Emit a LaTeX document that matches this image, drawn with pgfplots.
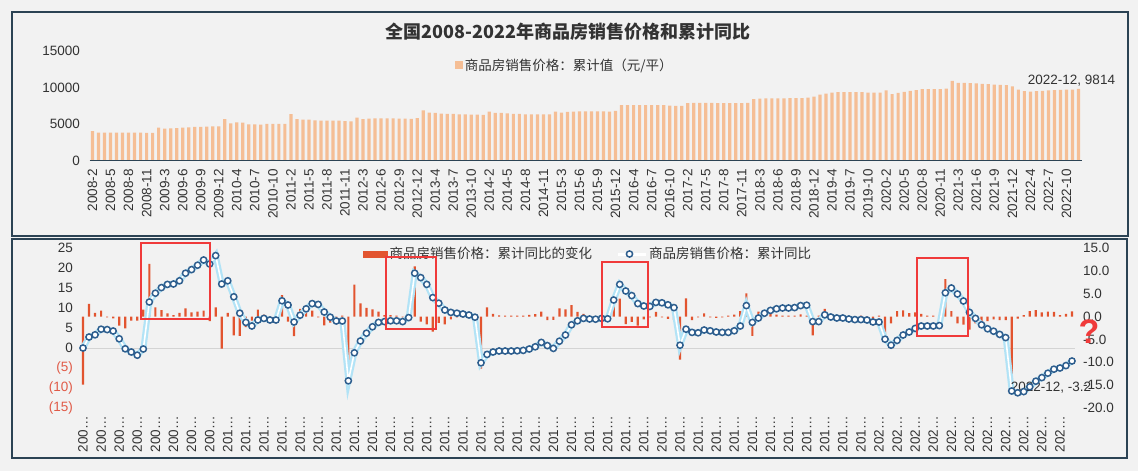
\documentclass[border=0pt]{standalone}
\usepackage{fontspec}
\setmainfont{Liberation Sans}
\newfontfamily\cjk{Noto Sans CJK SC}
\usepackage{pgfplots}
\usepackage{pgfplotstable}
\pgfplotsset{compat=1.18}

\definecolor{bg}{HTML}{F2F2F2}
\definecolor{frame}{HTML}{2C4354}
\definecolor{peach}{HTML}{F5BE95}
\definecolor{barred}{HTML}{E2542F}
\definecolor{glow}{HTML}{B2E3F6}
\definecolor{markc}{HTML}{2E5E8E}
\definecolor{tickc}{HTML}{333333}
\definecolor{negred}{HTML}{E05A47}
\definecolor{annot}{HTML}{F03A3A}
\definecolor{zeroc}{HTML}{D4D4D4}

% i = month index (Feb..Dec, 11 per year, 2008-2 .. 2022-12)
% price = cumulative average price (yuan/m2), chg = change of yoy, yoy = cumulative yoy (%)
\pgfplotstableread{
i price chg yoy
0 4040 -14.9 0.0
1 3810 2.8 2.75
2 3810 0.8 3.3
3 3830 1.3 4.7
4 3830 -0.2 4.6
5 3830 -0.4 4.25
6 3810 -2.0 2.3
7 3810 -2.6 -0.2
8 3810 -0.9 -1.0
9 3800 -0.9 -1.8
10 3800 1.5 -0.25
11 4500 11.5 11.5
12 4360 2.0 13.7
13 4400 1.4 15.1
14 4450 0.7 15.9
15 4500 0.3 16.0
16 4540 0.8 16.8
17 4590 1.8 18.7
18 4600 0.9 19.6
19 4630 1.1 20.7
20 4660 1.3 22.0
21 4681 -1.0 21.0
22 5680 2.0 23.1
23 5090 -7.0 16.0
24 5230 0.8 16.8
25 5180 -4.1 12.8
26 4950 -4.2 8.7
27 4950 -2.3 6.4
28 4930 -0.9 5.5
29 5000 1.5 7.0
30 5000 0.4 7.4
31 5000 -0.4 7.0
32 5032 0.2 7.0
33 6360 4.7 11.8
34 5680 -1.1 10.75
35 5590 -4.3 6.5
36 5590 1.7 8.2
37 5500 1.6 9.8
38 5450 1.3 11.1
39 5450 -0.2 10.9
40 5450 -1.9 9.0
41 5450 -1.3 7.7
42 5410 -1.0 6.75
43 5357 0.2 6.75
44 5860 -14.5 -8.2
45 5680 7.0 -1.2
46 5720 2.9 1.75
47 5770 1.9 3.7
48 5780 1.6 5.3
49 5780 1.1 6.4
50 5780 0.3 6.6
51 5740 0.3 6.8
52 5740 0.2 6.8
53 5700 -0.2 6.6
54 5791 1.0 7.6
55 6880 11.0 18.7
56 6560 -1.1 17.6
57 6510 -1.7 15.9
58 6420 -3.3 12.6
59 6380 -1.4 11.2
60 6380 -1.7 9.5
61 6330 -0.6 8.9
62 6330 -0.2 8.7
63 6290 -0.2 8.5
64 6290 -0.25 8.25
65 6237 -0.55 7.7
66 6700 -11.4 -3.7
67 6510 2.0 -1.6
68 6510 0.6 -1.0
69 6470 0.25 -0.75
70 6380 0.2 -0.75
71 6380 0.2 -0.75
72 6330 0.2 -0.7
73 6330 0.2 -0.6
74 6330 0.35 -0.25
75 6330 0.55 0.3
76 6324 1.1 1.4
77 6700 -0.8 0.6
78 6560 -0.7 -0.1
79 6650 1.8 1.7
80 6700 1.55 3.25
81 6740 2.5 5.8
82 6740 1.0 6.8
83 6740 0.6 7.4
84 6740 -0.15 7.25
85 6740 -0.1 7.2
86 6700 0.2 7.4
87 6793 -0.1 7.3
88 7570 4.5 12.0
89 7570 3.9 15.9
90 7570 -1.65 14.25
91 7570 -1.15 13.1
92 7570 -2.0 11.1
93 7570 -0.6 10.5
94 7570 -0.15 10.4
95 7570 1.0 11.4
96 7520 -0.15 11.3
97 7480 -0.5 10.8
98 7476 -0.7 10.1
99 7850 -9.4 0.7
100 7890 4.0 4.7
101 7890 -0.8 3.9
102 7890 -0.15 3.8
103 7890 0.7 4.5
104 7870 -0.2 4.3
105 7870 -0.3 4.0
106 7870 -0.15 3.9
107 7850 0.2 3.9
108 7850 0.4 4.3
109 7892 1.2 5.5
110 8420 5.1 10.6
111 8470 -4.2 6.4
112 8500 1.1 7.5
113 8500 1.2 8.7
114 8520 0.7 9.4
115 8520 0.4 9.8
116 8540 0.2 10.0
117 8540 0.2 10.0
118 8560 0.2 10.1
119 8600 0.5 10.6
120 8737 0.2 10.7
121 9040 -4.1 6.6
122 9170 0.2 6.6
123 9310 1.7 8.3
124 9350 -0.55 7.75
125 9350 -0.25 7.5
126 9350 0.2 7.5
127 9350 -0.25 7.25
128 9350 -0.15 7.1
129 9310 0.2 7.1
130 9310 -0.15 7.0
131 9310 -0.5 6.5
132 9590 0.2 6.5
133 9080 -4.3 2.2
134 9270 -1.5 0.7
135 9400 1.2 1.9
136 9540 1.35 3.25
137 9630 0.75 4.0
138 9770 0.9 4.9
139 9770 0.6 5.5
140 9770 0.2 5.5
141 9770 0.2 5.5
142 9860 0.2 5.6
143 10920 8.2 13.8
144 10640 1.2 15.0
145 10640 -1.5 13.5
146 10590 -1.75 11.75
147 10550 -2.85 8.9
148 10500 -1.5 7.4
149 10460 -1.6 5.8
150 10410 -1.0 4.8
151 10370 -0.6 4.2
152 10320 -0.8 3.4
153 10139 -0.8 2.6
154 9725 -15.5 -10.75
155 9500 -0.45 -11.2
156 9450 0.3 -10.9
157 9500 1.2 -9.7
158 9540 1.4 -8.3
159 9590 0.9 -7.4
160 9630 1.1 -6.3
161 9680 1.0 -5.3
162 9725 0.3 -5.0
163 9725 0.6 -4.4
164 9814 1.15 -3.25
}\data

\pgfplotsset{
  base/.style={
    scale only axis, clip=false,
    axis line style={draw=none},
    major tick length=0pt,
    scaled ticks=false,
    xmin=-0.5, xmax=164.5,
    tick label style={font=\fontsize{13.5}{15}\selectfont, text=tickc},
    legend style={draw=none, fill=none, font=\cjk\fontsize{13.5}{15}\selectfont, text=tickc},
  },
}

\begin{document}
\begin{tikzpicture}
\fill[bg] (0,0) rectangle (1138pt,471pt);
\draw[frame, line width=2pt] (12pt,459pt) rectangle (1128pt,235pt);
\draw[frame, line width=2pt] (12pt,232pt) rectangle (1127pt,13pt);

\node[font=\cjk\bfseries\fontsize{18}{20}\selectfont, text=tickc] at (568pt,439pt) {全国2008-2022年商品房销售价格和累计同比};

% top panel: cumulative price
\begin{axis}[base,
  at={(89.5pt,310.5pt)}, anchor=south west,
  width=992pt, height=109.5pt,
  ymin=0, ymax=15000,
  ytick={0,5000,10000,15000}, yticklabels={0,5000,10000,15000},
  yticklabel shift=6pt,
  xtick={0,3,...,162},
  xticklabels={2008-2,2008-5,2008-8,2008-11,2009-3,2009-6,2009-9,2009-12,2010-4,2010-7,2010-10,2011-2,2011-5,2011-8,2011-11,2012-3,2012-6,2012-9,2012-12,2013-4,2013-7,2013-10,2014-2,2014-5,2014-8,2014-11,2015-3,2015-6,2015-9,2015-12,2016-4,2016-7,2016-10,2017-2,2017-5,2017-8,2017-11,2018-3,2018-6,2018-9,2018-12,2019-4,2019-7,2019-10,2020-2,2020-5,2020-8,2020-11,2021-3,2021-6,2021-9,2021-12,2022-4,2022-7,2022-10},
  x tick label style={rotate=90, anchor=east},
  xticklabel shift=5pt,
  ybar, bar width=3.2pt,
  legend image code/.code={\fill[peach] (0pt,-4pt) rectangle (8pt,4pt);},
  legend style={at={(0.479,0.872)}, anchor=center},
]
\addplot[fill=peach, draw=none] table[x=i, y=price] {\data};
\addlegendentry{商品房销售价格：累计值（元/平）}
\draw[frame, line width=1.6pt] (axis cs:-0.5,0) -- (axis cs:164.5,0);
\node[anchor=south, font=\fontsize{13.5}{15}\selectfont, text=tickc, xshift=-7pt, yshift=-1pt] at (axis cs:164,9814) {2022-12, 9814};
\end{axis}

% bottom panel: change of yoy (right axis)
\begin{axis}[base,
  at={(80pt,63pt)}, anchor=south west,
  width=995pt, height=160pt,
  ymin=-20, ymax=15,
  ytick={-20,-15,...,15},
  yticklabels={-20.0,-15.0,-10.0,-5.0,0.0,5.0,10.0,15.0},
  yticklabel pos=right, yticklabel shift=4.5pt,
  xtick={0,3,...,162},
  xticklabels={200…,200…,200…,200…,200…,200…,200…,200…,
    201…,201…,201…,201…,201…,201…,201…,201…,201…,201…,201…,201…,
    201…,201…,201…,201…,201…,201…,201…,201…,201…,201…,201…,201…,
    201…,201…,201…,201…,201…,201…,201…,201…,201…,201…,201…,201…,
    202…,202…,202…,202…,202…,202…,202…,202…,202…,202…,202…},
  x tick label style={rotate=90, anchor=east},
  xticklabel shift=4.5pt,
  ybar, bar width=2.2pt,
]
\draw[zeroc, line width=0.8pt] (axis cs:-0.5,-6.875) -- (axis cs:164.5,-6.875);
\addplot[fill=barred, draw=none] table[x=i, y=chg] {\data};
\end{axis}

% bottom panel: cumulative yoy (left axis)
\begin{axis}[base,
  at={(80pt,63pt)}, anchor=south west,
  width=995pt, height=160pt,
  ymin=-15, ymax=25,
  ytick={-15,-10,...,25},
  yticklabels={{\color{negred}(15)},{\color{negred}(10)},{\color{negred}(5)},0,5,10,15,20,25},
  yticklabel shift=3.5pt,
  xtick=\empty,
  legend columns=2,
  legend style={at={(0.5106,0.9625)}, anchor=center,
    /tikz/every even column/.append style={column sep=22pt}},
]
\addlegendimage{legend image code/.code={\fill[barred] (0pt,-3pt) rectangle (24pt,3pt);}}
\addlegendentry{商品房销售价格：累计同比的变化}
\addplot[glow, line width=6pt, forget plot] table[x=i, y=yoy] {\data};
\addplot[white, line width=1.6pt, mark=*, mark size=3.1pt,
  mark options={fill=white, draw=markc, line width=1.5pt},
  legend image code/.code={\draw[white, line width=3pt] (0pt,0pt) -- (28pt,0pt);
    \draw[markc, fill=white, line width=1.5pt] (12pt,0pt) circle (3.1pt);}]
  table[x=i, y=yoy] {\data};
\addlegendentry{商品房销售价格：累计同比}
\node[font=\fontsize{13.5}{15}\selectfont, text=tickc, xshift=-21pt, yshift=-27pt] at (axis cs:164,-3.25) {2022-12, -3.2};
\end{axis}

% annotations
\draw[annot, line width=2.5pt] (141pt,228pt) rectangle (210pt,152pt);
\draw[annot, line width=2.5pt] (386pt,214pt) rectangle (436pt,142pt);
\draw[annot, line width=2.5pt] (602pt,209pt) rectangle (648pt,144pt);
\draw[annot, line width=2.5pt] (917pt,213pt) rectangle (968pt,135pt);
\node[text=annot, font=\bfseries\fontsize{34}{36}\selectfont] at (1089pt,139pt) {?};

\pgfresetboundingbox
\path[use as bounding box] (0,0) rectangle (1138pt,471pt);
\end{tikzpicture}
\end{document}
